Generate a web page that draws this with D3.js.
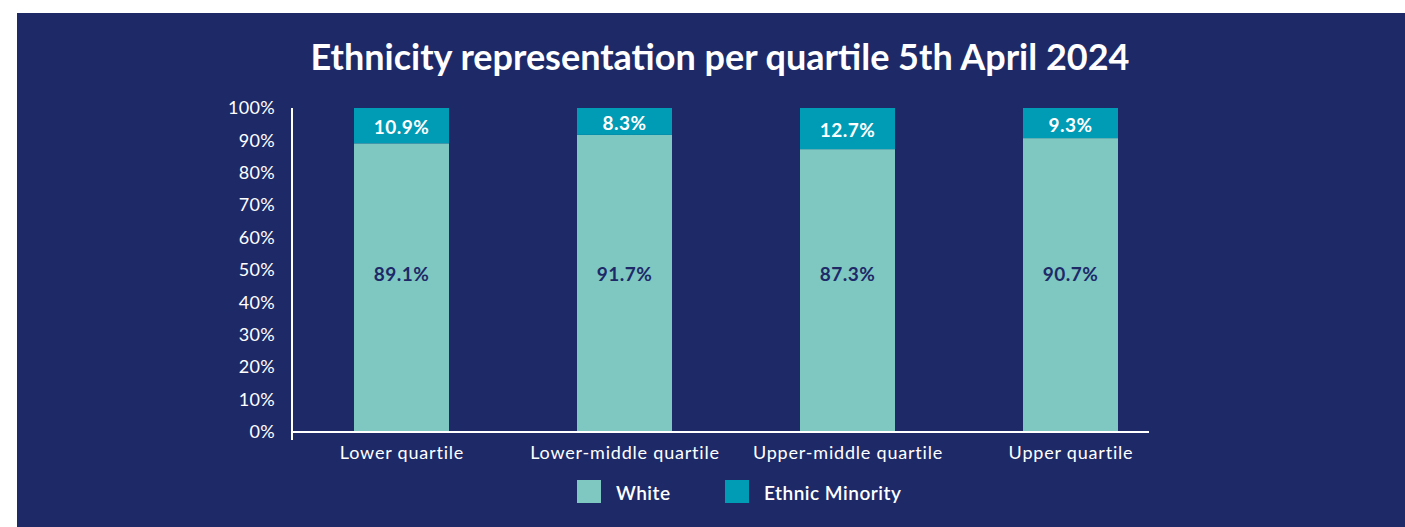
<!DOCTYPE html>
<html>
<head>
<meta charset="utf-8">
<script src="https://cdn.jsdelivr.net/npm/d3@7"></script>
<style>
  html, body { margin: 0; padding: 0; background: #ffffff; }
  svg { display: block; }
  text { font-family: Lato, "Open Sans", sans-serif; }
</style>
</head>
<body>
<svg id="chart" width="1405" height="527"></svg>
<script>
const title = "Ethnicity representation per quartile 5th April 2024";
const categories = ["Lower quartile", "Lower-middle quartile", "Upper-middle quartile", "Upper quartile"];
const whiteValues = [89.1, 91.7, 87.3, 90.7];
const minorityValues = [10.9, 8.3, 12.7, 9.3];
const seriesNames = ["White", "Ethnic Minority"];
const yTicks = [0, 10, 20, 30, 40, 50, 60, 70, 80, 90, 100];

const colors = { bg: "#1e2a68", white: "#7fc8c2", minority: "#009bb5", text: "#ffffff", dark: "#1e2a68" };

const svg = d3.select("#chart");
svg.append("rect").attr("x", 17).attr("y", 13).attr("width", 1405 - 17).attr("height", 527 - 13).attr("fill", colors.bg);

svg.append("text")
  .attr("x", 720).attr("y", 70)
  .attr("text-anchor", "middle")
  .attr("fill", colors.text)
  .attr("font-size", 36).attr("font-weight", 700)
  .text(title);

const x = d3.scalePoint().domain(categories).range([290, 1182]).padding(0.5);
const y = d3.scaleLinear().domain([0, 100]).range([432, 108]);
const barW = 95;

// bars
const stacked = categories.map((c, i) => ({ c, w: whiteValues[i], m: minorityValues[i] }));
const g = svg.append("g");
g.selectAll("rect.white").data(stacked).join("rect")
  .attr("x", d => x(d.c) - barW / 2).attr("width", barW)
  .attr("y", d => y(d.w)).attr("height", d => y(0) - y(d.w))
  .attr("fill", colors.white);
g.selectAll("rect.min").data(stacked).join("rect")
  .attr("x", d => x(d.c) - barW / 2).attr("width", barW)
  .attr("y", d => y(d.w + d.m)).attr("height", d => y(d.w) - y(d.w + d.m))
  .attr("fill", colors.minority);

// labels
g.selectAll("text.wl").data(stacked).join("text")
  .attr("x", d => x(d.c)).attr("y", y(50) + 3)
  .attr("text-anchor", "middle").attr("dominant-baseline", "central")
  .attr("fill", colors.dark).attr("font-size", 19).attr("font-weight", 700).attr("letter-spacing", 0.5)
  .text(d => d.w.toFixed(1) + "%");
g.selectAll("text.ml").data(stacked).join("text")
  .attr("x", d => x(d.c)).attr("y", d => (y(d.w) + y(d.w + d.m)) / 2 + 1)
  .attr("text-anchor", "middle").attr("dominant-baseline", "central")
  .attr("fill", colors.text).attr("font-size", 19).attr("font-weight", 700).attr("letter-spacing", 0.5)
  .text(d => d.m.toFixed(1) + "%");

// y axis
const yAxis = svg.append("g").attr("transform", "translate(292,0)")
  .call(d3.axisLeft(y).tickValues(yTicks).tickFormat(d => d + "%").tickSize(0).tickPadding(17));
yAxis.select(".domain").remove();
yAxis.selectAll("text").attr("fill", colors.text).attr("font-size", 18).attr("letter-spacing", 0.3).attr("font-family", "Lato, sans-serif");
svg.append("line").attr("x1", 292).attr("x2", 292).attr("y1", 108).attr("y2", 440)
  .attr("stroke", "#ffffff").attr("stroke-width", 2);

// x axis
const xAxis = svg.append("g").attr("transform", "translate(0,432)")
  .call(d3.axisBottom(x).tickSize(0).tickPadding(14));
xAxis.select(".domain").remove();
xAxis.selectAll("text").attr("fill", colors.text).attr("font-size", 18).attr("letter-spacing", 0.8).attr("font-family", "Lato, sans-serif");
svg.append("line").attr("x1", 291).attr("x2", 1149).attr("y1", 432).attr("y2", 432)
  .attr("stroke", "#ffffff").attr("stroke-width", 2);

// legend
const legendColors = [colors.white, colors.minority];
const legendX = [577, 725];
const lg = svg.append("g");
seriesNames.forEach((n, i) => {
  lg.append("rect").attr("x", legendX[i]).attr("y", 480).attr("width", 24).attr("height", 23).attr("fill", legendColors[i]);
  lg.append("text").attr("x", legendX[i] + 39).attr("y", 492)
    .attr("dominant-baseline", "central")
    .attr("fill", colors.text).attr("font-size", 19).attr("font-weight", 600).attr("letter-spacing", 0.5)
    .text(n);
});
</script>
</body>
</html>
